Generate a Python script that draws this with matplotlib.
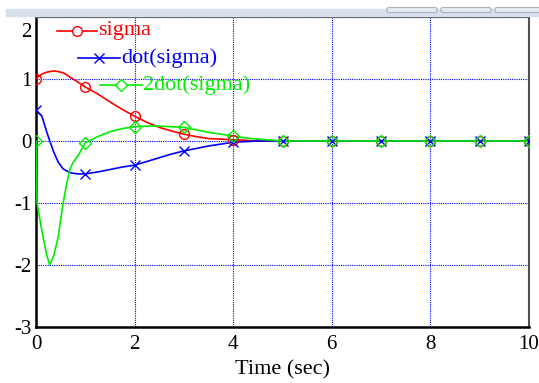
import matplotlib.pyplot as plt
from matplotlib.lines import Line2D
from matplotlib.patches import Rectangle, FancyBboxPatch
from matplotlib.transforms import ScaledTranslation

# simulation output (time in seconds)
t = [0, 0.02, 0.12, 0.22, 0.28, 0.36, 0.45, 0.55, 0.62, 0.69, 0.75, 0.85, 1.0,
     1.25, 1.5, 1.75, 2.0, 2.25, 2.5, 2.75, 3.0, 3.25, 3.5, 3.75, 4.0, 4.25, 4.5,
     5.0, 6.0, 7.0, 8.0, 9.0, 10.0]
sigma = [1.0, 1.02, 1.08, 1.11, 1.12, 1.13, 1.12, 1.10, 1.07, 1.03, 1.0, 0.95, 0.87,
         0.76, 0.63, 0.51, 0.40, 0.30, 0.22, 0.16, 0.11, 0.07, 0.04, 0.03, 0.02, 0.01, 0.0,
         0.0, 0.0, 0.0, 0.0, 0.0, 0.0]
dsigma = [0.5, 0.48, 0.40, 0.14, 0.0, -0.18, -0.34, -0.45, -0.48, -0.51, -0.52, -0.53, -0.53,
          -0.50, -0.46, -0.42, -0.39, -0.33, -0.27, -0.21, -0.16, -0.12, -0.08, -0.05, -0.02, -0.01, 0.0,
          0.0, 0.0, 0.0, 0.0, 0.0, 0.0]
ddsigma = [0.0, -1.0, -1.45, -1.85, -2.0, -1.85, -1.55, -1.0, -0.7, -0.45, -0.35, -0.24, -0.03,
           0.07, 0.15, 0.20, 0.23, 0.24, 0.24, 0.23, 0.22, 0.18, 0.14, 0.11, 0.08, 0.05, 0.03,
           0.0, 0.0, 0.0, 0.0, 0.0, 0.0]
# markers sit on whole seconds
mark_t = [0, 1, 2, 3, 4, 5, 6, 7, 8, 9, 10]
names = ["sigma", "dot(sigma)", "2dot(sigma)"]
xticks = [0, 2, 4, 6, 8, 10]
yticks = [-3, -2, -1, 0, 1, 2]

colors = ["#ff0000", "#0000ff", "#00ee00"]
markers = ["o", "x", "D"]
serif = "Liberation Serif"

fig = plt.figure(figsize=(5.39, 3.83), dpi=100)
ax = fig.add_axes([36 / 539, 1 - 327 / 383, 493 / 539, 310 / 383])

# window strip above the plot
fig.patches.append(Rectangle((6 / 539, 1 - 15.7 / 383), 533 / 539, 6.7 / 383,
                             transform=fig.transFigure, color="#d6e1ed", zorder=0))
for x0 in [387, 441, 495]:
    fig.patches.append(FancyBboxPatch((x0 / 539, 1 - 12.5 / 383), 50 / 539, 5 / 383,
                                      boxstyle="round,pad=0,rounding_size=0.004",
                                      transform=fig.transFigure, facecolor="#e4ebf3",
                                      edgecolor="#a8b0b8", lw=0.8, zorder=1))

idx = [t.index(m) for m in mark_t]
series = [sigma, dsigma, ddsigma]
for ys, c, m in zip(series, colors, markers):
    ax.plot(t, ys, color=c, lw=1.2, zorder=3)
    ax.plot(mark_t, [ys[i] for i in idx], ls="none", marker=m, mfc="none",
            mec=c, ms=7 if m != "D" else 6, mew=1.0, zorder=4)

ax.set_xlim(0, 10)
ax.set_ylim(-3, 2)
ax.set_xticks(xticks)
ax.set_yticks(yticks)
ax.set_xticklabels([str(v) for v in xticks], fontfamily=serif, fontsize=15)
ax.set_yticklabels([str(v) for v in yticks], fontfamily=serif, fontsize=15)
ax.tick_params(axis="x", length=0, pad=6)
ax.tick_params(axis="y", length=0, pad=3)
ax.grid(True, color="#0000ff", ls=(0, (1, 1)), lw=0.8)
ax.set_axisbelow(True)

# top label pushed down inside the frame
top = ax.get_yticklabels()[-1]
top.set_transform(top.get_transform() + ScaledTranslation(0, -0.13, fig.dpi_scale_trans))

for s in ["left", "bottom"]:
    ax.spines[s].set_color("black")
    ax.spines[s].set_linewidth(1.8)
for s in ["top", "right"]:
    ax.spines[s].set_color("#505050")
    ax.spines[s].set_linewidth(1.5)

ax.set_xlabel("Time (sec)", fontfamily=serif, fontsize=16, labelpad=4)

# staggered legend entries
entries = [(57, 97, 31), (78, 120, 58), (100, 142, 85)]
for (x0, x1, yp), c, m, name in zip(entries, colors, markers, names):
    ax0 = (x0 - 36) / 493
    ax1 = (x1 - 36) / 493
    ay = (327 - yp) / 310
    ax.add_line(Line2D([ax0, ax1], [ay, ay], color=c, lw=1.2, transform=ax.transAxes, zorder=5))
    ax.add_line(Line2D([(ax0 + ax1) / 2], [ay], marker=m, mfc="white", mec=c,
                       ms=7 if m != "D" else 6, mew=1.0, transform=ax.transAxes, zorder=6))
    ax.text(ax1 + 0.002, ay, name, color=c, fontfamily=serif, fontsize=16,
            va="center", ha="left", transform=ax.transAxes, zorder=6)

fig.savefig("out.png", dpi=100)
